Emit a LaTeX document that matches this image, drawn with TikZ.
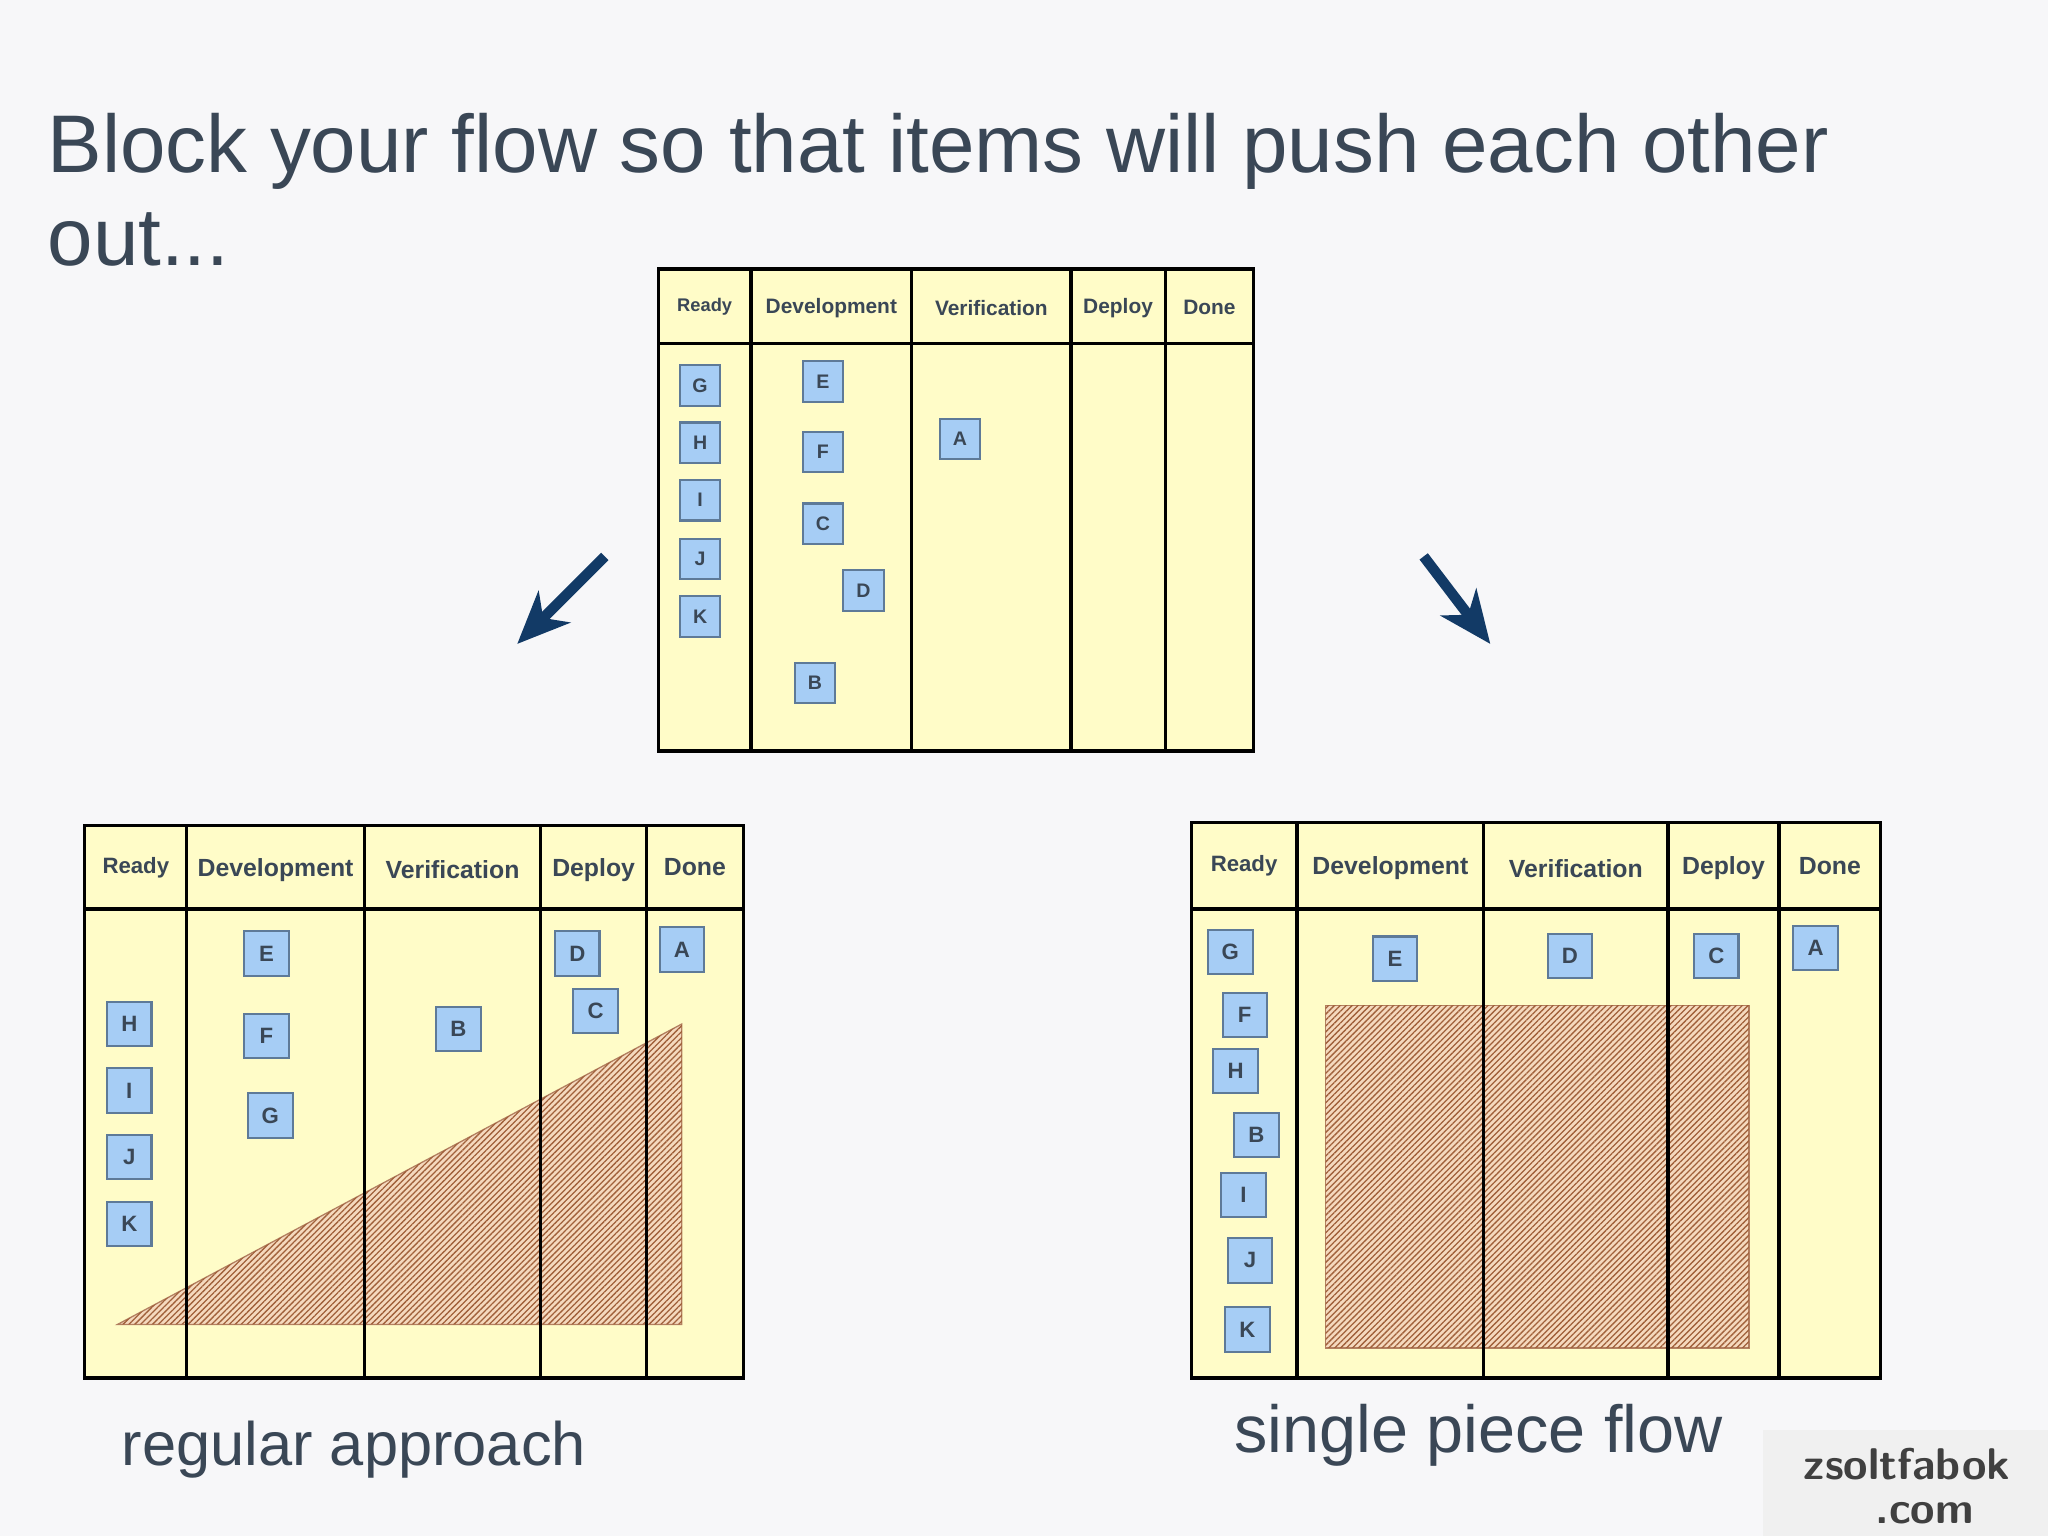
\documentclass[tikz,border=0pt]{standalone}
\usepackage{fontspec}
\setmainfont{Liberation Sans}
\usetikzlibrary{patterns.meta,arrows.meta}
\definecolor{bg}{HTML}{F7F7F9}
\definecolor{board}{HTML}{FFFCC8}
\definecolor{cardf}{HTML}{A6CDF5}
\definecolor{cardb}{HTML}{5E7A98}
\definecolor{txt}{HTML}{3A4756}
\definecolor{navy}{HTML}{123A66}
\definecolor{hatchb}{HTML}{A0603A}
\definecolor{hatchf}{HTML}{F5D9BE}
\tikzset{
 card/.style={draw=cardb,fill=cardf,line width=0.8pt,minimum width=#1,minimum height=#1,inner sep=0pt,font=\bfseries\fontsize{7.5}{8}\selectfont,text=txt},
 card/.default=15.5pt,
 bcard/.style={card=17pt,font=\bfseries\fontsize{8.5}{9}\selectfont},
 brd/.style={draw=black,fill=board,line width=1.2pt},
 col/.style={draw=black,line width=1.2pt},
 hdr/.style={font=\bfseries\fontsize{8}{9}\selectfont,text=txt},
 bhdr/.style={font=\bfseries\fontsize{9.5}{10}\selectfont,text=txt},
 hatch/.style={fill=hatchf,draw=hatchb!80,line width=0.5pt},
 hatchp/.style={pattern={Lines[angle=45,distance=1.6pt,line width=0.5pt]},pattern color=hatchb},
 arr/.style={navy,line width=4pt,-{Stealth[length=20pt,width=17pt,inset=6pt]}},
}
\newcommand\crd[5][card]{\node[#1] (#2) at (#4,#5) {#3};}
\begin{document}
\begin{tikzpicture}[x=0.5pt,y=-0.5pt]
\fill[bg] (0,0) rectangle (1568,1176);
\useasboundingbox (0,0) rectangle (1568,1176);
\node[anchor=base west,text=txt,font=\fontsize{31.3}{40}\selectfont,inner sep=0] (title) at (36,132) {Block your flow so that items will push each other};
\node[anchor=base west,text=txt,font=\fontsize{31.3}{40}\selectfont,inner sep=0] (title2) at (36,203) {out...};
% top board
\draw[brd] (504,206) rectangle (960,575);
\draw[col] (504,263) -- (960,263);
\foreach \x in {575,698,820,892} \draw[col] (\x,206) -- (\x,575);
\node[hdr] (t1) at (539.5,235) {\fontsize{7}{8}\selectfont Ready};
\node[hdr] (t2) at (636.5,236) {Development};
\node[hdr] (t3) at (759,236) {Verification};
\node[hdr] (t4) at (856,236) {Deploy};
\node[hdr] (t5) at (926,235) {Done};
\crd{tG}{G}{536}{295}\crd{tH}{H}{536}{339}\crd{tI}{I}{536}{383}\crd{tJ}{J}{536}{428}\crd{tK}{K}{536}{472}
\crd{tE}{E}{630}{292}\crd{tF}{F}{630}{346}\crd{tC}{C}{630}{401}\crd{tD}{D}{661}{452}\crd{tB}{B}{624}{523}\crd{tA}{A}{735}{336}
% arrows
\coordinate (la1) at (463,426); \coordinate (la2) at (396,493);
\coordinate (ra1) at (1090,426); \coordinate (ra2) at (1141,493);
\draw[arr] (la1) -- (la2);
\draw[arr] (ra1) -- (ra2);
% bottom-left
\draw[brd] (65,632) rectangle (569,1055);
\draw[hatch] (90,1014) -- (522,1014) -- (522,784) -- cycle;
\fill[hatchp] (90,1014) -- (522,1014) -- (522,784) -- cycle;
\draw[col] (65,696) -- (569,696);
\foreach \x in {143,279,414,495} \draw[col] (\x,632) -- (\x,1055);
\node[bhdr] (l1) at (104,664) {\fontsize{8.5}{9}\selectfont Ready};
\node[bhdr] (l2) at (211,666) {Development};
\node[bhdr] (l3) at (346.5,666) {Verification};
\node[bhdr] (l4) at (454.5,666) {Deploy};
\node[bhdr] (l5) at (532,664) {Done};
\crd[bcard]{lE}{E}{204}{730}\crd[bcard]{lF}{F}{204}{793}\crd[bcard]{lG}{G}{207}{854}
\crd[bcard]{lH}{H}{99}{784}\crd[bcard]{lI}{I}{99}{835}\crd[bcard]{lJ}{J}{99}{886}\crd[bcard]{lK}{K}{99}{937}
\crd[bcard]{lB}{B}{351}{788}\crd[bcard]{lD}{D}{442}{730}\crd[bcard]{lC}{C}{456}{774}\crd[bcard]{lA}{A}{522}{727}
\node[text=txt,font=\fontsize{23.5}{30}\selectfont] (reg) at (271,1110) {regular approach};
% bottom-right
\draw[brd] (912,630) rectangle (1440,1055);
\draw[hatch] (1015,770) rectangle (1339,1032);
\fill[hatchp] (1015,770) rectangle (1339,1032);
\draw[col] (912,696) -- (1440,696);
\foreach \x in {993,1136,1277,1362} \draw[col] (\x,630) -- (\x,1055);
\node[bhdr] (r1) at (952.5,663) {\fontsize{8.5}{9}\selectfont Ready};
\node[bhdr] (r2) at (1064.5,665) {Development};
\node[bhdr] (r3) at (1206.5,665) {Verification};
\node[bhdr] (r4) at (1319.5,665) {Deploy};
\node[bhdr] (r5) at (1401,663) {Done};
\crd[bcard]{rG}{G}{942}{729}\crd[bcard]{rF}{F}{953}{777}\crd[bcard]{rH}{H}{946}{820}\crd[bcard]{rB}{B}{962}{869}
\crd[bcard]{rI}{I}{952}{915}\crd[bcard]{rJ}{J}{957}{965}\crd[bcard]{rK}{K}{955}{1018}
\crd[bcard]{rE}{E}{1068}{734}\crd[bcard]{rD}{D}{1202}{732}\crd[bcard]{rC}{C}{1314}{732}\crd[bcard]{rA}{A}{1390}{726}
\node[text=txt,font=\fontsize{25.5}{30}\selectfont] (spf) at (1132,1099) {single piece flow};
% watermark
\fill[gray!12] (1350,1095) rectangle (1568,1176);
\node[font=\sffamily\bfseries\fontsize{17}{17}\selectfont,text=black!75,align=center,inner sep=0] (wm) at (1460,1138) {zsoltfabok\\\hspace*{0.8em}.com};
\end{tikzpicture}
\end{document}
